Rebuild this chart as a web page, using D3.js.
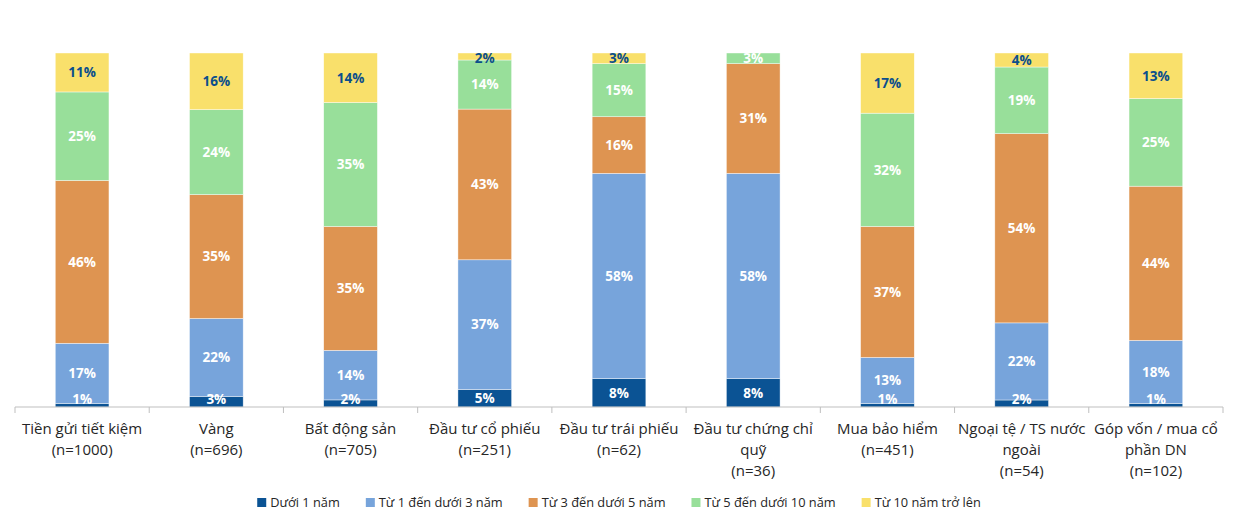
<!DOCTYPE html>
<html>
<head>
<meta charset="utf-8">
<script src="https://cdn.jsdelivr.net/npm/d3@7"></script>
<style>
  body { margin: 0; background: #fff; }
  svg { display: block; }
</style>
</head>
<body>
<div id="chart"></div>
<script>
// categories, each label split into its lines
const categories = [
  ["Tiền gửi tiết kiệm", "(n=1000)"],
  ["Vàng", "(n=696)"],
  ["Bất động sản", "(n=705)"],
  ["Đầu tư cổ phiếu", "(n=251)"],
  ["Đầu tư trái phiếu", "(n=62)"],
  ["Đầu tư chứng chỉ", "quỹ", "(n=36)"],
  ["Mua bảo hiểm", "(n=451)"],
  ["Ngoại tệ / TS nước", "ngoài", "(n=54)"],
  ["Góp vốn / mua cổ", "phần DN", "(n=102)"]
]
const seriesNames = ["Dưới 1 năm", "Từ 1 đến dưới 3 năm", "Từ 3 đến dưới 5 năm", "Từ 5 đến dưới 10 năm", "Từ 10 năm trở lên"]
const duoi1 =  [1, 3, 2, 5, 8, 8, 1, 2, 1]
const tu1den3 = [17, 22, 14, 37, 58, 58, 13, 22, 18]
const tu3den5 = [46, 35, 35, 43, 16, 31, 37, 54, 44]
const tu5den10 = [25, 24, 35, 14, 15, 3, 32, 19, 25]
const tren10 = [11, 16, 14, 2, 3, 0, 17, 4, 13]

const colors = ["#0b5394", "#77a4db", "#de9451", "#98df9a", "#f9e06b"]
const labelColors = ["#fff", "#fff", "#fff", "#fff", "#0b4f8c"]

const W = 1255, H = 521
const MARGIN = { TOP: 53, BOTTOM: 114, LEFT: 15, RIGHT: 32 }
const HEIGHT = H - MARGIN.TOP - MARGIN.BOTTOM

const svg = d3.select("#chart").append("svg")
    .attr("width", W).attr("height", H)
    .style("font-family", "'Open Sans', 'Noto Sans', sans-serif")

const g = svg.append("g").attr("transform", "translate(" + MARGIN.LEFT + "," + MARGIN.TOP + ")")

const series = [duoi1, tu1den3, tu3den5, tu5den10, tren10]
const rows = categories.map((c, i) => {
    const row = { key: i }
    const total = d3.sum(series, s => s[i])
    series.forEach((s, j) => { row[j] = s[i] / total; row["v" + j] = s[i] })
    return row
})

const stack = d3.stack().keys(d3.range(series.length))(rows)

const x = d3.scaleBand()
    .domain(d3.range(categories.length))
    .range([0, W - MARGIN.LEFT - MARGIN.RIGHT])
    .padding(0)

const y = d3.scaleLinear().domain([0, 1]).range([HEIGHT, 0])

const barW = x.bandwidth() * 0.4

// bars
const layers = g.selectAll(".layer").data(stack).enter()
    .append("g").attr("class", "layer")
    .attr("fill", (d, i) => colors[i])

layers.selectAll("rect").data(d => d).enter()
    .append("rect")
    .attr("x", d => x(d.data.key) + (x.bandwidth() - barW) / 2)
    .attr("y", d => y(d[1]))
    .attr("width", barW)
    .attr("height", d => y(d[0]) - y(d[1]))
    .attr("stroke", "#fff")
    .attr("stroke-width", 0.6)
    .attr("stroke-opacity", 0.7)

// value labels
stack.forEach((layer, j) => {
    g.append("g").selectAll("text")
        .data(layer.filter(d => d.data["v" + j] > 0))
        .enter().append("text")
        .attr("x", d => x(d.data.key) + x.bandwidth() / 2)
        .attr("y", d => {
            let cy = (y(d[0]) + y(d[1])) / 2
            cy = Math.min(cy, HEIGHT - 8)
            cy = Math.max(cy, 5)
            return cy
        })
        .attr("dy", "0.35em")
        .attr("text-anchor", "middle")
        .attr("font-size", "13.5px")
        .attr("font-weight", "bold")
        .attr("fill", labelColors[j])
        .text(d => d.data["v" + j] + "%")
})

// x axis
const axis = g.append("g").attr("transform", "translate(0," + HEIGHT + ")")
axis.append("line")
    .attr("x1", 0).attr("x2", x.range()[1])
    .attr("stroke", "#bfbfbf")
axis.selectAll(".tick").data(d3.range(categories.length + 1)).enter()
    .append("line")
    .attr("x1", i => i * x.step()).attr("x2", i => i * x.step())
    .attr("y1", 0).attr("y2", 6)
    .attr("stroke", "#bfbfbf")

axis.selectAll(".cat").data(categories).enter()
    .append("text")
    .attr("text-anchor", "middle")
    .attr("font-size", "15px")
    .attr("fill", "#262626")
    .attr("transform", (d, i) => "translate(" + (x(i) + x.bandwidth() / 2) + ",27)")
    .selectAll("tspan").data(d => d).enter()
    .append("tspan")
    .attr("x", 0)
    .attr("y", (d, i) => i * 21)
    .text(d => d)

// legend
const legend = svg.append("g").attr("transform", "translate(0,503)")
const GAP = 26
let lx = 0
seriesNames.forEach((name, i) => {
    const it = legend.append("g")
    it.append("rect").attr("x", 0).attr("y", -5).attr("width", 9).attr("height", 9).attr("fill", colors[i])
    const t = it.append("text").attr("x", 13).attr("dy", "0.35em")
        .attr("font-size", "12.8px").attr("fill", "#262626").text(name)
    const w = 13 + t.node().getComputedTextLength()
    it.attr("transform", "translate(" + lx + ",0)")
    lx += w + GAP
})
const legendW = lx - GAP
legend.attr("transform", "translate(" + (MARGIN.LEFT + x.range()[1] / 2 - legendW / 2) + ",503)")
</script>
</body>
</html>
